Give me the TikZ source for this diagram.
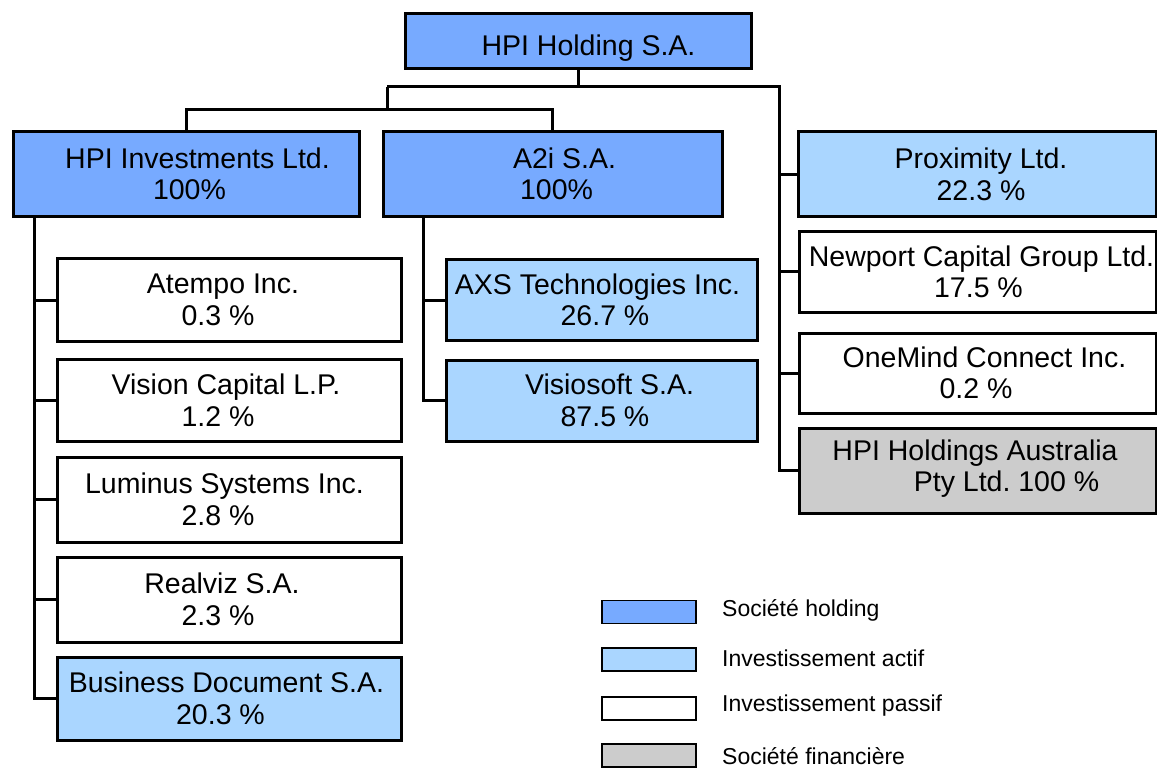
\documentclass[tikz,border=0pt]{standalone}
\usepackage{fontspec}
\setmainfont{Liberation Sans}
\frenchspacing
\definecolor{holdc}{RGB}{119,170,255}
\definecolor{actc}{RGB}{170,214,255}
\definecolor{finc}{RGB}{204,204,204}
\newcommand{\topstrut}{\rule{0pt}{28pt}}
\newcommand{\shft}[1]{\hspace*{#1}}
\begin{document}
\begin{tikzpicture}[x=1pt,y=-1pt,
  box/.style={draw, line width=3pt, inner sep=0pt, align=center,
    font=\fontsize{28.5}{31.5}\selectfont, execute at begin node=\topstrut},
  hold/.style={box, fill=holdc},
  act/.style={box, fill=actc},
  pas/.style={box, fill=white},
  fin/.style={box, fill=finc},
  lcol/.style={minimum width=344pt, minimum height=82pt},
  mcol/.style={minimum width=311pt, minimum height=81pt},
  rcol/.style={minimum width=357pt, minimum height=80pt},
  lvl/.style={minimum height=85pt},
  conn/.style={line width=3pt},
  legbox/.style={draw, line width=1.5pt, minimum width=94pt, minimum height=23pt, inner sep=0pt},
  legtxt/.style={anchor=west, inner sep=0pt, font=\fontsize{23}{27}\selectfont}]
\useasboundingbox (0,0) rectangle (1157,770);

% top
\node[hold, minimum width=346pt, minimum height=55pt, execute at begin node={\rule{0pt}{34pt}}] (top) at (578.5,41.5) {\shft{20pt}HPI Holding S.A.};
% level 2
\node[hold, lvl, minimum width=346pt] (inv) at (186.5,174) {\shft{22pt}HPI Investments Ltd.\\\shft{6pt}100\%};
\node[hold, lvl, minimum width=339pt] (a2i) at (552.5,174) {\shft{24pt}A2i S.A.\\\shft{8pt}100\%};
\node[act, lvl, minimum width=358pt] (prox) at (977.5,174.5) {\shft{7pt}Proximity Ltd.\\\shft{7pt}22.3 \%};
% left column
\node[pas, lcol] (atempo) at (229,300) {\shft{-12pt}Atempo Inc.\\\shft{-22pt}0.3 \%};
\node[pas, lcol] (vision) at (229,400.5) {\shft{-6pt}Vision Capital L.P.\\\shft{-22pt}1.2 \%};
\node[pas, lcol, minimum height=85pt] (lumin) at (229,499.5) {\shft{-9pt}Luminus Systems Inc.\\\shft{-22pt}2.8 \%};
\node[pas, lcol, minimum height=85pt] (realviz) at (229,599.5) {\shft{-14pt}Realviz S.A.\\\shft{-22pt}2.3 \%};
\node[act, lcol, minimum height=83pt] (bizdoc) at (229,698.5) {\shft{-5pt}Business Document S.A.\\\shft{-17pt}20.3 \%};
% middle column
\node[act, mcol] (axs) at (601.5,300) {\shft{-8pt}AXS Technologies Inc.\\\shft{7pt}26.7 \%};
\node[act, mcol] (visio) at (601.5,400.5) {\shft{16pt}Visiosoft S.A.\\\shft{7pt}87.5 \%};
% right column
\node[pas, rcol] (newport) at (977.5,272) {\shft{8pt}Newport Capital Group Ltd.\\\shft{2pt}17.5 \%};
\node[pas, rcol] (onemind) at (977.5,373) {\shft{14pt}OneMind Connect Inc.\\\shft{-3pt}0.2 \%};
\node[fin, rcol, minimum height=85pt, execute at begin node={}] (aus) at (977.5,470.5) {\shft{-5pt}HPI Holdings Australia\\\shft{58pt}Pty Ltd. 100 \%\rule[-9.6pt]{0pt}{0pt}};

% connectors
\coordinate (j1) at (387,87);
\coordinate (j2) at (387,110);
\coordinate (rj) at (779,87);
\coordinate (ls) at (34,216);
\coordinate (ms) at (423,216);
\draw[conn] (top.south) -- (top.south |- j1);
\draw[conn] (j1) -- (rj) -- (rj |- aus.west) -- (aus.west);
\draw[conn] (j1) -- (j2);
\draw[conn] (inv.north) |- (j2) -| (a2i.north);
\draw[conn] (rj |- prox.west) -- (prox.west);
\draw[conn] (rj |- newport.west) -- (newport.west);
\draw[conn] (rj |- onemind.west) -- (onemind.west);
\draw[conn] (ls) |- (bizdoc.west);
\draw[conn] (ls |- atempo.west) -- (atempo.west);
\draw[conn] (ls |- vision.west) -- (vision.west);
\draw[conn] (ls |- lumin.west) -- (lumin.west);
\draw[conn] (ls |- realviz.west) -- (realviz.west);
\draw[conn] (ms) |- (visio.west);
\draw[conn] (ms |- axs.west) -- (axs.west);

% legend
\node[legbox, fill=holdc] (lg1) at (649,612) {};
\node[legbox, fill=actc] (lg2) at (649,659.5) {};
\node[legbox, fill=white] (lg3) at (649,708.5) {};
\node[legbox, fill=finc] (lg4) at (649,755.5) {};
\node[legtxt] (lt1) at (722,610) {Société holding};
\node[legtxt] (lt2) at (722,658) {Investissement actif};
\node[legtxt] (lt3) at (722,706) {Investissement passif};
\node[legtxt] (lt4) at (722,756) {Société financière};
\end{tikzpicture}
\end{document}
